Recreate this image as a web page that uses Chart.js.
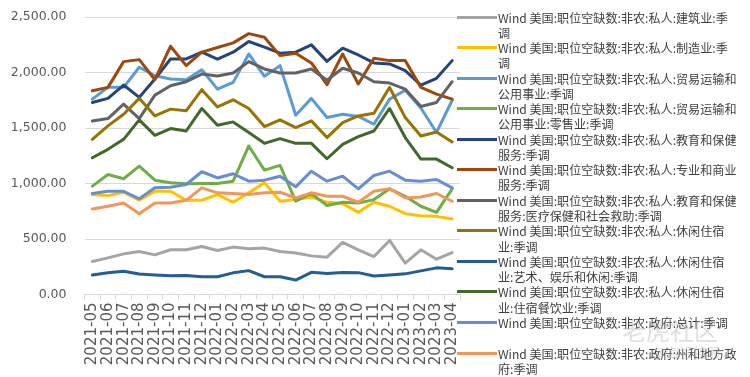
<!DOCTYPE html>
<html>
<head>
<meta charset="utf-8">
<script src="https://cdn.jsdelivr.net/npm/chart.js@4.4.0/dist/chart.umd.min.js"></script>
<style>
  html, body { margin: 0; padding: 0; background: #fff; }
  #wrap { position: relative; width: 750px; height: 377px; overflow: hidden; }
  #chartBox { position: absolute; left: 0; top: 0; width: 462px; height: 377px; }
  #legend { position: absolute; left: 457px; top: 9.5px; width: 293px;
            font-family: "Noto Sans CJK SC", sans-serif; font-size: 12.1px;
            line-height: 15.25px; color: #404040; }
  .item { position: relative; height: 30.55px; padding-left: 41px; white-space: pre; }
  .item .swatch { position: absolute; left: 0; top: 6px; width: 40px; height: 3px; }
  .wm { position: absolute; font-family: "Noto Sans CJK SC", sans-serif; color: rgba(160,160,160,0.35); }
</style>
</head>
<body>
<div id="wrap">
  <div id="chartBox"><canvas id="jobChart" width="462" height="377"></canvas></div>
  <div id="legend"></div>
  <div class="wm" style="left:622px;top:312px;font-size:24px;">老虎社区</div>
  <div class="wm" style="left:652px;top:342px;font-size:14px;">@海银控股</div>
</div>
<script>
// ── Data ──────────────────────────────────────────────────────────────────
const months = ['2021-05','2021-06','2021-07','2021-08','2021-09','2021-10','2021-11','2021-12',
                '2022-01','2022-02','2022-03','2022-04','2022-05','2022-06','2022-07','2022-08',
                '2022-09','2022-10','2022-11','2022-12','2023-01','2023-02','2023-03','2023-04'];

const construction   = [297, 330, 366, 387, 357, 403, 403, 433, 396, 427, 412, 418, 387, 373, 348, 336, 469, 403, 342, 487, 282, 403, 318, 378];
const manufacturing  = [900, 891, 921, 849, 930, 930, 849, 849, 900, 831, 916, 1006, 840, 855, 879, 831, 819, 740, 831, 795, 728, 710, 704, 680];
const tradeTransport = [1760, 1866, 1866, 2047, 1971, 1941, 1935, 2025, 1850, 1911, 2167, 1966, 2062, 1615, 1767, 1594, 1624, 1604, 1534, 1760, 1840, 1680, 1460, 1750];
const retail         = [976, 1081, 1043, 1157, 1030, 1006, 997, 1000, 1000, 1021, 1338, 1120, 1163, 840, 910, 801, 831, 825, 855, 952, 885, 795, 740, 952];
const eduHealth      = [1730, 1767, 1887, 1776, 1941, 2122, 2122, 2183, 2120, 2183, 2279, 2228, 2174, 2183, 2249, 2100, 2219, 2158, 2086, 2077, 2016, 1887, 1948, 2107];
const profBusiness   = [1835, 1866, 2098, 2116, 1935, 2237, 2062, 2183, 2225, 2267, 2350, 2318, 2152, 2174, 2086, 1890, 2167, 1896, 2128, 2107, 2107, 1866, 1805, 1760];
const healthCare     = [1564, 1585, 1715, 1585, 1796, 1881, 1917, 1986, 1968, 1995, 2098, 2032, 1995, 1995, 2032, 1930, 2038, 1995, 1917, 1905, 1851, 1694, 1730, 1917];
const leisure        = [1398, 1519, 1624, 1767, 1609, 1670, 1655, 1845, 1690, 1754, 1676, 1513, 1573, 1504, 1564, 1414, 1549, 1609, 1633, 1866, 1594, 1428, 1464, 1374];
const artsRecreation = [175, 195, 210, 185, 175, 168, 172, 160, 160, 195, 215, 160, 160, 130, 200, 190, 198, 197, 167, 176, 186, 213, 240, 232];
const accommFood     = [1232, 1308, 1398, 1573, 1434, 1495, 1473, 1676, 1525, 1555, 1459, 1362, 1404, 1362, 1362, 1223, 1353, 1423, 1473, 1676, 1414, 1220, 1220, 1142];
const govTotal       = [910, 930, 930, 862, 961, 967, 991, 1106, 1050, 1088, 1021, 1030, 1066, 970, 1111, 1021, 1066, 952, 1072, 1111, 1030, 1021, 1036, 961];
const stateLocalGov  = [771, 795, 825, 728, 825, 825, 849, 961, 916, 910, 900, 916, 921, 870, 916, 885, 885, 831, 930, 952, 870, 879, 910, 840];

const seriesNames = [
  'Wind 美国:职位空缺数:非农:私人:建筑业:季\n调',
  'Wind 美国:职位空缺数:非农:私人:制造业:季\n调',
  'Wind 美国:职位空缺数:非农:私人:贸易运输和\n公用事业:季调',
  'Wind 美国:职位空缺数:非农:私人:贸易运输和\n公用事业:零售业:季调',
  'Wind 美国:职位空缺数:非农:私人:教育和保健\n服务:季调',
  'Wind 美国:职位空缺数:非农:私人:专业和商业\n服务:季调',
  'Wind 美国:职位空缺数:非农:私人:教育和保健\n服务:医疗保健和社会救助:季调',
  'Wind 美国:职位空缺数:非农:私人:休闲住宿\n业:季调',
  'Wind 美国:职位空缺数:非农:私人:休闲住宿\n业:艺术、娱乐和休闲:季调',
  'Wind 美国:职位空缺数:非农:私人:休闲住宿\n业:住宿餐饮业:季调',
  'Wind 美国:职位空缺数:非农:政府:总计:季调',
  'Wind 美国:职位空缺数:非农:政府:州和地方政\n府:季调'
];
const seriesValues = [construction, manufacturing, tradeTransport, retail, eduHealth, profBusiness,
                      healthCare, leisure, artsRecreation, accommFood, govTotal, stateLocalGov];
const seriesColors = ['#A5A5A5', '#FFC000', '#5B9BD5', '#70AD47', '#264478', '#9E480E',
                      '#636363', '#997300', '#255E91', '#43682B', '#698ED0', '#F1975A'];

const yTicks = [0, 500, 1000, 1500, 2000, 2500];

// ── Legend (html, so the labels can wrap like the original) ───────────────
const legendEl = document.getElementById('legend');
seriesNames.forEach((name, i) => {
  const item = document.createElement('div');
  item.className = 'item';
  item.innerHTML = `<span class="swatch" style="background:${seriesColors[i]}"></span>`;
  item.appendChild(document.createTextNode(name));
  legendEl.appendChild(item);
});

// ── Chart ─────────────────────────────────────────────────────────────────
const fmt = v => v.toLocaleString('en-US', { minimumFractionDigits: 2, maximumFractionDigits: 2 });
const noPad = s => { s.paddingLeft = 0; s.paddingRight = 0; s.paddingTop = 0; s.paddingBottom = 0; };

const ctx = document.getElementById('jobChart').getContext('2d');
new Chart(ctx, {
  type: 'line',
  data: {
    labels: months,
    datasets: seriesValues.map((vals, i) => ({
      label: seriesNames[i],
      data: vals,
      borderColor: seriesColors[i],
      backgroundColor: seriesColors[i],
      borderWidth: 3,
      pointRadius: 0,
      tension: 0,
      borderJoinStyle: 'round',
      borderCapStyle: 'round',
      order: seriesValues.length - i   // later series drawn on top, like Excel
    }))
  },
  options: {
    responsive: false,
    devicePixelRatio: 1,
    animation: false,
    layout: { padding: { top: 17, right: 2, left: 0, bottom: 0 } },
    plugins: { legend: { display: false }, tooltip: { enabled: false } },
    scales: {
      x: {
        offset: true,
        grid: { offset: true, drawOnChartArea: false, drawTicks: true, tickLength: 5, color: '#D9D9D9' },
        border: { display: true, color: '#D9D9D9' },
        ticks: { autoSkip: false, minRotation: 90, maxRotation: 90, padding: 3,
                 color: '#595959', font: { family: 'DejaVu Sans', size: 15 } },
        afterFit: s => { s.height = 82.5; noPad(s); }
      },
      y: {
        min: yTicks[0],
        max: yTicks[yTicks.length - 1],
        afterBuildTicks: s => { s.ticks = yTicks.map(v => ({ value: v })); },
        grid: { color: '#D9D9D9', drawTicks: false },
        border: { display: false },
        ticks: { padding: 18, color: '#595959', font: { family: 'DejaVu Sans', size: 12.5 }, callback: v => fmt(v) },
        afterFit: s => { s.width = 84.5; noPad(s); }
      }
    }
  }
});
</script>
</body>
</html>
